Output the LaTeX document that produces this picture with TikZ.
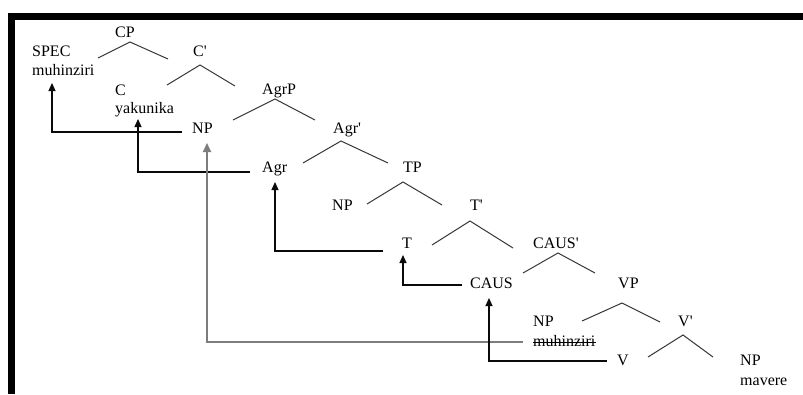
\documentclass[tikz,border=0pt]{standalone}
\usepackage{fontspec}
\setmainfont{Liberation Serif}
\usetikzlibrary{arrows.meta}

\definecolor{treeFrame}{RGB}{0,0,0}
\definecolor{treeBranch}{RGB}{55,55,55}
\definecolor{treeMove}{RGB}{10,10,10}
\definecolor{treeTrace}{RGB}{125,125,125}
\definecolor{treeText}{RGB}{0,0,0}

\begin{document}
\begin{tikzpicture}[x=1pt,y=-1pt,
      cat/.style={font=\fontsize{16}{18}\selectfont, text=treeText,
        inner sep=0pt, anchor=base west},
      word/.style={font=\fontsize{16}{18}\selectfont, text=treeText,
        inner sep=0pt, anchor=base west},
      branch/.style={draw=treeBranch, line width=1pt},
      move/.style={draw=treeMove, line width=1.2pt,
        -{Triangle[width=7pt,length=8pt]}},
      trace/.style={draw=treeTrace, line width=2pt,
        -{Triangle[width=8pt,length=9pt]}}]
      \useasboundingbox (0,0) rectangle (803,394);
      \fill[white] (0,0) rectangle (803,394);

      % page frame
      \fill[treeFrame] (8,13) rectangle (803,20);
      \fill[treeFrame] (8,13) rectangle (15,394);

      % CP layer
      \node[cat] (cp) at (115,37) {CP};
      \node[cat] (spec) at (32,56) {SPEC};
      \node[word] (muhA) at (32,75) {muhinziri};
      \node[cat] (cbar) at (193,56) {C\textquotesingle};
      \node[cat] (c) at (115,95) {C};
      \node[word] (yak) at (115,113) {yakunika};
      \draw[branch] ([shift={(-17,21)}]cp.base west) -- ([shift={(15,5)}]cp.base west)
        -- ([shift={(53,22)}]cp.base west);
      \draw[branch] ([shift={(-26,29)}]cbar.base west) -- ([shift={(7,9)}]cbar.base west)
        -- ([shift={(42,30)}]cbar.base west);

      % AgrP layer
      \node[cat] (agrp) at (262,94) {AgrP};
      \node[cat] (npa) at (192,133) {NP};
      \node[cat] (agrbar) at (333,133) {Agr\textquotesingle};
      \node[cat] (agr) at (262,172) {Agr};
      \draw[branch] ([shift={(-29,26)}]agrp.base west) -- ([shift={(13,5)}]agrp.base west)
        -- ([shift={(53,26)}]agrp.base west);
      \draw[branch] ([shift={(-30,30)}]agrbar.base west) -- ([shift={(8,8)}]agrbar.base west)
        -- ([shift={(55,30)}]agrbar.base west);

      % TP layer
      \node[cat] (tp) at (403,172) {TP};
      \node[cat] (npt) at (332,210) {NP};
      \node[cat] (tbar) at (470,210) {T\textquotesingle};
      \node[cat] (t) at (402,248) {T};
      \draw[branch] ([shift={(-36,32)}]tp.base west) -- ([shift={(0,10)}]tp.base west)
        -- ([shift={(39,33)}]tp.base west);
      \draw[branch] ([shift={(-38,35)}]tbar.base west) -- ([shift={(0,11)}]tbar.base west)
        -- ([shift={(43,38)}]tbar.base west);

      % CAUS and VP layer
      \node[cat] (causbar) at (533,248) {CAUS\textquotesingle};
      \node[cat] (caus) at (470,288) {CAUS};
      \node[cat] (vp) at (618,288) {VP};
      \node[cat] (npv) at (533,326) {NP};
      \node[word] (muhB) at (533,346) {muhinziri};
      \node[cat] (vbar) at (678,326) {V\textquotesingle};
      \node[cat] (v) at (617,365) {V};
      \node[cat] (npo) at (740,365) {NP};
      \node[word] (mav) at (740,385) {mavere};
      \draw[branch] ([shift={(-10,25)}]causbar.base west) -- ([shift={(25,5)}]causbar.base west)
        -- ([shift={(62,25)}]causbar.base west);
      \draw[branch] ([shift={(-36,33)}]vp.base west) -- ([shift={(4,15)}]vp.base west)
        -- ([shift={(42,34)}]vp.base west);
      \draw[branch] ([shift={(-30,31)}]vbar.base west) -- ([shift={(5,9)}]vbar.base west)
        -- ([shift={(35,31)}]vbar.base west);
      \draw[treeText, line width=1pt] ([shift={(0,-4)}]muhB.base west)
        -- ([shift={(0,-4)}]muhB.base east);

      % movement arrows
      \draw[move] ([shift={(-10,-1)}]npa.base west) -| ([shift={(20,8)}]muhA.base west);
      \draw[move] ([shift={(-12,0)}]agr.base west) -| ([shift={(23,6)}]yak.base west);
      \draw[trace] ([shift={(-10,-4)}]muhB.base west) -| ([shift={(15,10)}]npa.base west);
      \draw[move] ([shift={(-19,3)}]t.base west) -| ([shift={(13,10)}]agr.base west);
      \draw[move] ([shift={(-8,-3)}]caus.base west) -| ([shift={(1,7)}]t.base west);
      \draw[move] ([shift={(-10,-4)}]v.base west) -| ([shift={(19,10)}]caus.base west);
    \end{tikzpicture}
\end{document}
